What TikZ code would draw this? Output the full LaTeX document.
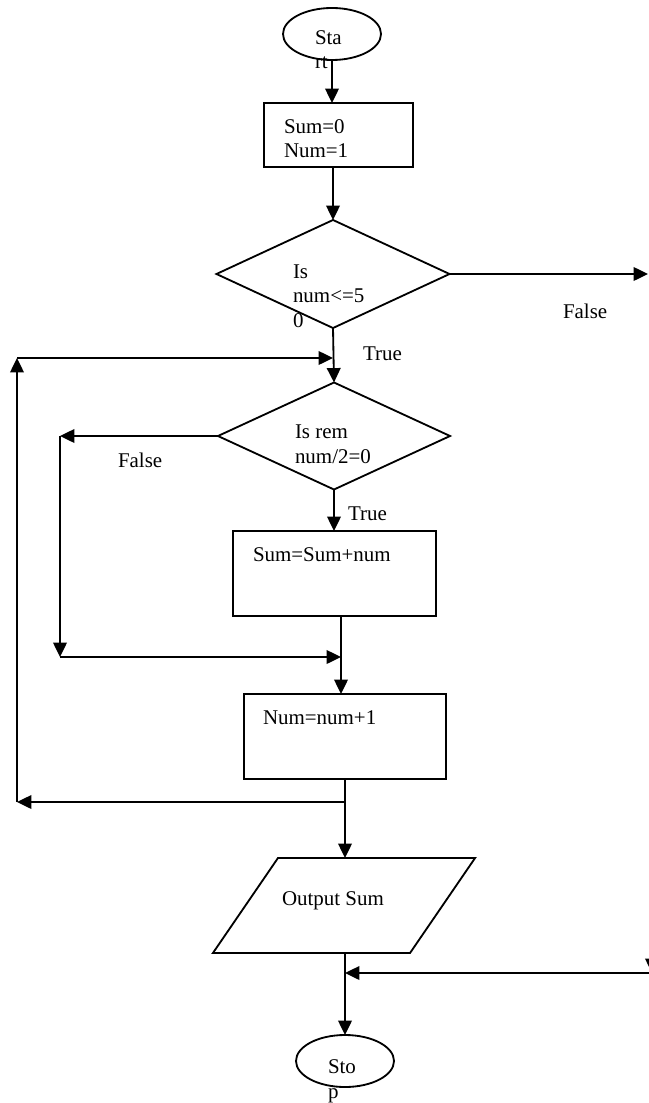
\documentclass[tikz,border=0pt]{standalone}
\usepackage{fontspec}
\setmainfont{Liberation Serif}
\usetikzlibrary{shapes.geometric,arrows.meta}
\begin{document}
\begin{tikzpicture}[x=0.025cm, y=-0.025cm, line width=1.3pt,
    >={Triangle[length=0.36cm, width=0.34cm]},
    every node/.style={inner sep=0pt, outer sep=0pt},
    term/.style={ellipse, draw, minimum width=2.45cm, minimum height=1.3cm},
    proc/.style={rectangle, draw},
    cond/.style={diamond, draw},
    io/.style={trapezium, draw, trapezium left angle=55.6, trapezium right angle=124.4,
      inner xsep=1.65cm, inner ysep=1.1875cm},
    txt/.style={anchor=base west, align=left, font=\fontsize{14.9}{17.4}\selectfont}]
\useasboundingbox (0,0) rectangle (649,1103);

\node[term] (Start) at (332,34) {};
\node[proc, minimum width=3.725cm, minimum height=1.6cm] (Init) at (338.5,135) {};
\node[cond, minimum width=5.825cm, minimum height=2.7cm] (Q1) at (333,274) {};
\node[cond, minimum width=5.8cm, minimum height=2.675cm] (Q2) at (334,436) {};
\node[proc, minimum width=5.075cm, minimum height=2.125cm] (Add) at (334.5,573.5) {};
\node[proc, minimum width=5.05cm, minimum height=2.125cm] (Inc) at (345,736.5) {};
\node[io] (Out) at (344,905.5) {};
\node[term] (Stop) at (345,1061) {};

% multi-line texts sit on the baseline of their last line
\node[txt] (tStart) at (315,69) {Sta\\rt};
\node[txt] (tInit) at (284,158) {Sum=0\\Num=1};
\node[txt] (tQ1) at (293,327) {Is\\num<=5\\0};
\node[txt] (tQ2) at (295,463) {Is rem\\num/2=0};
\node[txt] (tAdd) at (253,561) {Sum=Sum+num};
\node[txt] (tInc) at (263,724) {Num=num+1};
\node[txt] (tOut) at (282,905) {Output Sum};
\node[txt] (tStop) at (328,1098) {Sto\\p};

\node[txt] (F1) at (563,318) {False};
\node[txt] (T1) at (363,360) {True};
\node[txt] (F2) at (118,467) {False};
\node[txt] (T2) at (348,520) {True};

\coordinate (fout) at (648,274);
\coordinate (rtop) at (652,274); % runs off the page
\coordinate (rbot) at (652,973);
\coordinate (loopA) at (345,802);
\coordinate (loopB) at (17,802);
\coordinate (loopC) at (17,358);
\coordinate (fl) at (60,436);
\coordinate (flb) at (60,657);
\coordinate (join) at (341,657);

\draw[->] (Start.south) -- (Start.south |- Init.north);
\draw[->] (Q1.north |- Init.south) -- (Q1.north);
\draw[->] (Q1.east) -- (fout);
\draw[->] (rtop) -- (rbot);
\draw[->] (rbot) -- (Stop.north |- rbot);
\draw[->] (Q1.south) -- (Q2.north);
\draw[->] (Q2.west) -- (fl);
\draw[->] (fl) -- (flb);
\draw[->] (flb) -- (join);
\draw[->] (Q2.south) -- (Q2.south |- Add.north);
\draw (Add.south -| join) -- (join);
\draw[->] (join) -- (join |- Inc.north);
\draw[->] (Inc.south) -- (Inc.south |- Out.north);
\draw[->] (loopA) -- (loopB);
\draw[->] (loopB) -- (loopC);
\draw[->] (loopC) -- (Q1.south |- loopC);
\draw[->] (Stop.north |- Out.south) -- (Stop.north);
\end{tikzpicture}
\end{document}
